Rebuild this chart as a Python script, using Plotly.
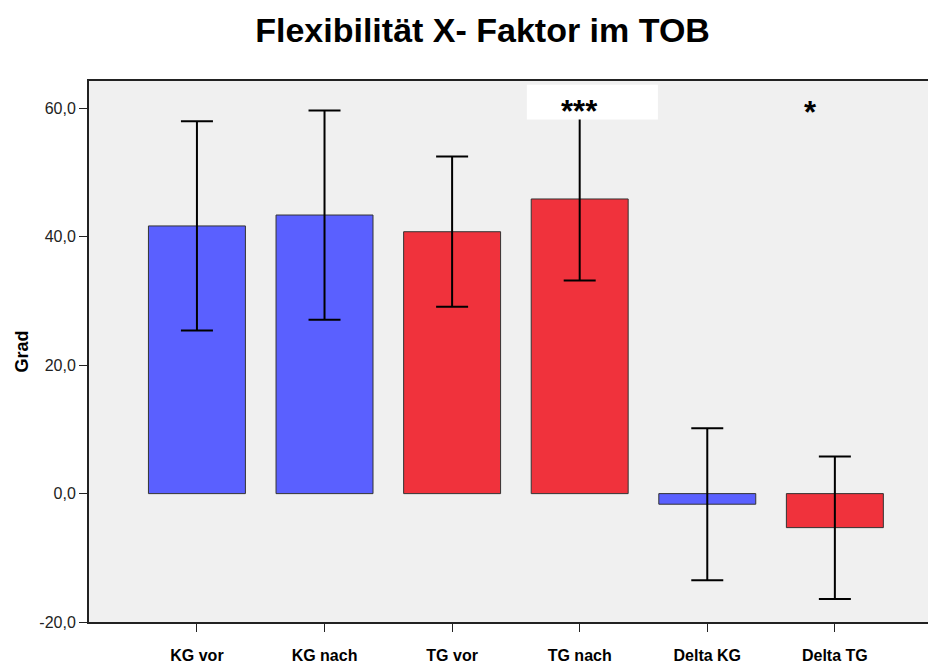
import plotly.graph_objects as go

categories = ["KG vor", "KG nach", "TG vor", "TG nach", "Delta KG", "Delta TG"]
means = [41.7, 43.4, 40.8, 45.9, -1.65, -5.3]
err = [16.3, 16.3, 11.7, 12.7, 11.85, 11.1]
groups = ["KG", "KG", "TG", "TG", "KG", "TG"]
tick_vals = [-20, 0, 20, 40, 60]
tick_text = [f"{v:.1f}".replace(".", ",") for v in tick_vals]

BLUE = "#5A60FF"
RED = "#F0323C"
colors = [BLUE if g == "KG" else RED for g in groups]

FONT = "Liberation Sans, Arial, sans-serif"

fig = go.Figure()
fig.add_trace(go.Bar(
    x=categories, y=means,
    marker=dict(color=colors, line=dict(color="#333333", width=1)),
    width=0.76,
    error_y=dict(type="data", array=err, visible=True, color="black", thickness=2, width=16),
    showlegend=False,
))

# white box behind the significance marker
fig.add_shape(type="rect", xref="x", yref="y", x0=2.586, x1=3.613, y0=58.3, y1=63.7,
              fillcolor="white", line=dict(width=0), layer="above")
fig.add_annotation(x=3.0, y=59.6, xref="x", yref="y", text="<b>***</b>", showarrow=False,
                   font=dict(family=FONT, size=31, color="black"))
fig.add_annotation(x=4.81, y=59.3, xref="x", yref="y", text="<b>*</b>", showarrow=False,
                   font=dict(family=FONT, size=31, color="black"))

fig.update_layout(
    width=928, height=664,
    margin=dict(l=89, r=0, t=81, b=42),
    paper_bgcolor="white",
    plot_bgcolor="#F0F0F0",
    title=dict(text="<b>Flexibilität X- Faktor im TOB</b>", x=0.52, xanchor="center",
               y=1 - 30 / 664, yanchor="middle",
               font=dict(family=FONT, size=34, color="black")),
    font=dict(family=FONT, color="black"),
)
fig.update_xaxes(
    range=[-0.846, 5.73], automargin=False,
    showline=True, linecolor="#222222", linewidth=2, mirror=True,
    ticks="outside", ticklen=8, tickcolor="#222222", tickwidth=1,
    ticklabelstandoff=10,
    tickfont=dict(family=FONT, size=16, color="black"),
    tickprefix="<b>", ticksuffix="</b>",
    showgrid=False,
)
fig.update_yaxes(
    range=[-20, 64.28], automargin=False,
    tickvals=tick_vals, ticktext=tick_text,
    showline=True, linecolor="#222222", linewidth=2,
    ticks="outside", ticklen=8, tickcolor="#222222",
    tickfont=dict(family=FONT, size=16, color="#222222"),
    showgrid=False, zeroline=False,
    title=dict(text="<b>Grad</b>", font=dict(family=FONT, size=18, color="black"), standoff=6),
)

fig.write_html("out.html")
